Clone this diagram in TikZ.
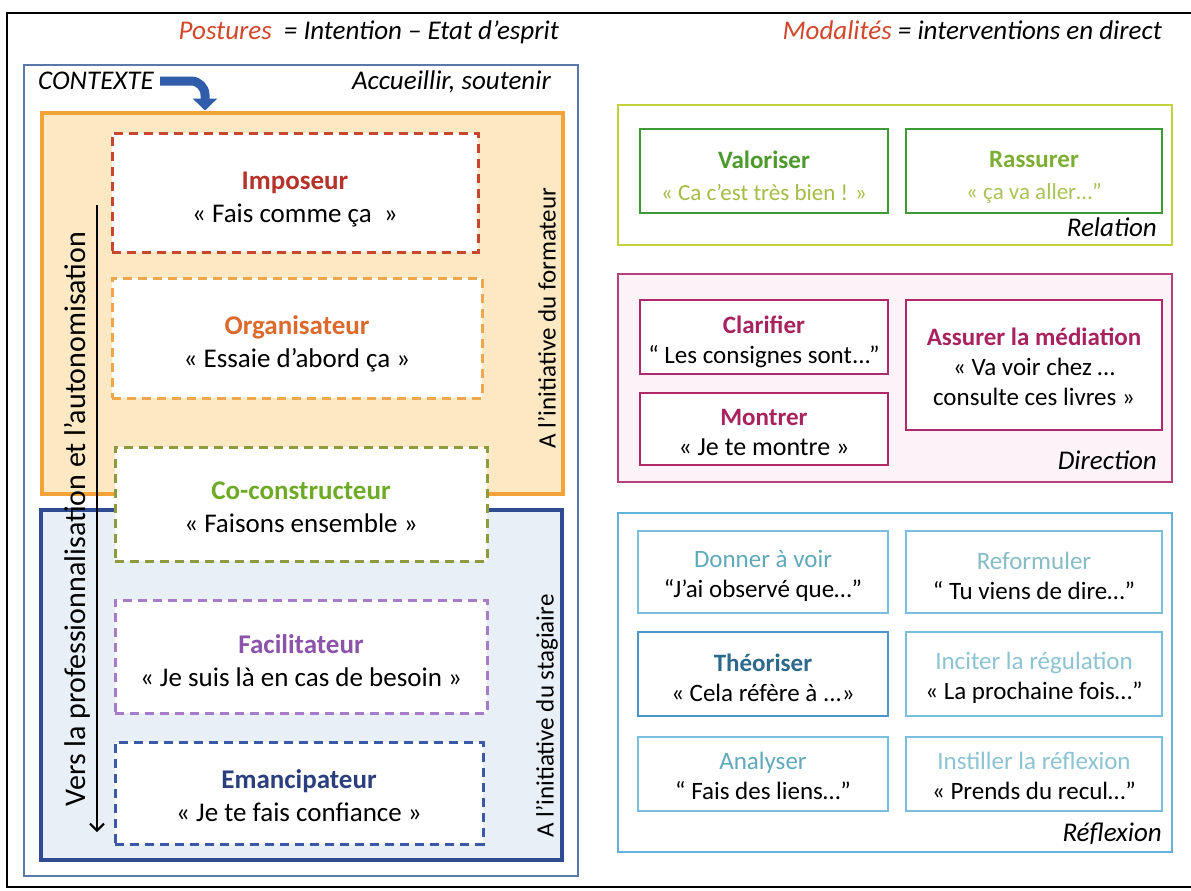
\documentclass[tikz,border=0pt]{standalone}
\usepackage{fontspec}
\setmainfont{Carlito}
\usetikzlibrary{arrows.meta}

\definecolor{headred}{HTML}{D2462C}
\definecolor{frameblue}{HTML}{5A78A8}
\definecolor{ctxblue}{HTML}{2F5DAA}
\definecolor{orangefill}{HTML}{FDE8C4}
\definecolor{orangeline}{HTML}{F3A338}
\definecolor{bluefill}{HTML}{E9EFF7}
\definecolor{blueline}{HTML}{2E4C92}
\definecolor{imposeurD}{HTML}{C8452E}
\definecolor{imposeurT}{HTML}{B5332A}
\definecolor{organisateurD}{HTML}{F0A64A}
\definecolor{organisateurT}{HTML}{DC6A2C}
\definecolor{coconstructeurD}{HTML}{8E9A3E}
\definecolor{coconstructeurT}{HTML}{6FAA26}
\definecolor{facilitateurD}{HTML}{A87BC8}
\definecolor{facilitateurT}{HTML}{8B53AA}
\definecolor{emancipateurD}{HTML}{3A5AA8}
\definecolor{emancipateurT}{HTML}{2B3F7E}
\definecolor{relline}{HTML}{C3D23C}
\definecolor{relbox}{HTML}{3E9A34}
\definecolor{valtitle}{HTML}{4C9A2C}
\definecolor{valquote}{HTML}{A2BC44}
\definecolor{rasstitle}{HTML}{7DAE34}
\definecolor{rassquote}{HTML}{A8C454}
\definecolor{dirline}{HTML}{B4407C}
\definecolor{dirfill}{HTML}{FBF3F7}
\definecolor{dirbox}{HTML}{B0286A}
\definecolor{dirtitle}{HTML}{A8225E}
\definecolor{refline}{HTML}{62B2DA}
\definecolor{refbox}{HTML}{7ABEDD}
\definecolor{theobox}{HTML}{4A96C8}
\definecolor{donnerT}{HTML}{5FA9BB}
\definecolor{reformT}{HTML}{86BCC6}
\definecolor{theoT}{HTML}{2B6A8C}
\definecolor{inciterT}{HTML}{8CC3D2}

\begin{document}
\begin{tikzpicture}[x=1pt,y=-1pt,
	postbox/.style={draw,fill=white,line width=3pt,dash pattern=on 9pt off 6pt,inner sep=0pt},
	posttext/.style={align=center,inner sep=0pt,font=\fontsize{27}{33}\selectfont},
	modbox/.style={draw,fill=white,line width=2.2pt,inner sep=0pt},
	modtext/.style={align=center,inner sep=0pt,font=\fontsize{25}{30}\selectfont},
	panel/.style={draw,line width=1.6pt,inner sep=0pt},
	tag/.style={font=\fontsize{27}{32}\selectfont\itshape,inner sep=0pt},
	side/.style={rotate=90,inner sep=0pt,font=\fontsize{25}{30}\selectfont}]
	\useasboundingbox (0,0) rectangle (1191,891);
	\fill[white] (0,0) rectangle (1191,891);
	\draw[line width=2pt] (7,13) rectangle (1220,887);

	% headers
	\node[tag,anchor=base east] (posthead) at (559,40)
		{\textcolor{headred}{Postures}\ \ = Intention -- Etat d’esprit};
	\node[tag,anchor=base east] (modhead) at (1162,40)
		{\textcolor{headred}{Modalités} = interventions en direct};

	% postures
	\node[panel,draw=frameblue,line width=1.3pt,minimum width=554pt,minimum height=811pt]
		(contexte) at (301,470.5) {};
	\node[tag,anchor=base west] (ctx) at (38,89) {CONTEXTE};
	\node[tag,anchor=base east] (accueil) at (551,89) {Accueillir, soutenir};
	\node[panel,fill=orangefill,draw=orangeline,line width=4pt,minimum width=521pt,minimum height=381pt]
		(formateur) at (302,303) {};
	\node[panel,fill=bluefill,draw=blueline,line width=4pt,minimum width=521pt,minimum height=350pt]
		(stagiaire) at (301.5,685) {};
	\coordinate (ctxa) at (160,81);
	\coordinate (ctxx) at (205,0);
	\draw[ctxblue,line width=9pt,rounded corners=14pt,-{Triangle[width=24pt,length=12pt]}]
		(ctxa) -| (ctxx |- formateur.north);

	\foreach \nm/\cx/\cy/\w/\h/\dy/\ttl/\qt in {
		imposeur/295/192.5/366/119/7/Imposeur/{« Fais comme ça\ \ »},
		organisateur/297/338/370/120/6/Organisateur/{« Essaie d’abord ça »},
		coconstructeur/301/504/372/114/3.5/Co-constructeur/{« Faisons ensemble »},
		facilitateur/301/656.5/372/113/4.5/Facilitateur/{« Je suis là en cas de besoin »},
		emancipateur/299/793/368/102/2.5/Emancipateur/{« Je te fais confiance »}}{
		\node[postbox,draw=\nm D,minimum width=\w pt,minimum height=\h pt] (\nm) at (\cx,\cy) {};
		\node[posttext] (\nm txt) at ([yshift=-\dy pt]\nm.center)
			{\textcolor{\nm T}{\bfseries \ttl}\\\qt};
	}

	\node[side,anchor=center] (formlabel) at (547,318) {A l’initiative du formateur};
	\node[side,anchor=center] (stalabel) at (547,716) {A l’initiative du stagiaire};
	\coordinate (proftop) at (97,205);
	\coordinate (profbot) at (97,832);
	\draw[line width=2pt,-{Straight Barb[length=7pt,width=14pt]}] (proftop) -- (profbot);
	\node[rotate=90,inner sep=0pt,font=\fontsize{30}{36}\selectfont] (proflabel) at (77,519)
		{Vers la professionnalisation et l’autonomisation};

	% modalites : panels
	\node[panel,draw=relline,minimum width=554pt,minimum height=140pt] (relation) at (895,175) {};
	\node[panel,draw=dirline,fill=dirfill,minimum width=554pt,minimum height=208pt] (direction) at (895,378) {};
	\node[panel,draw=refline,line width=2pt,minimum width=554pt,minimum height=339pt] (reflexion) at (895,682.5) {};
	\node[tag,anchor=base east] (reltag) at (1157,236) {Relation};
	\node[tag,anchor=base east] (dirtag) at (1157,469) {Direction};
	\node[tag,anchor=base east] (reftag) at (1162,841) {Réflexion};

	% modalites : boxes
	\foreach \nm/\cx/\cy/\w/\h/\dy/\bc/\txt in {
		valoriser/764/171/248/84/4.5/relbox/{\textcolor{valtitle}{\bfseries Valoriser}\\[2pt]{\fontsize{23}{28}\selectfont\textcolor{valquote}{« Ca c’est très bien ! »}}},
		rassurer/1034/171/256/84/6.5/relbox/{\textcolor{rasstitle}{\bfseries Rassurer}\\[2pt]{\fontsize{23}{28}\selectfont\textcolor{rassquote}{« ça va aller…”}}},
		clarifier/764/337/248/74/4.5/dirbox/{\textcolor{dirtitle}{\bfseries Clarifier}\\“ Les consignes sont...”},
		montrer/764/429/248/72/3/dirbox/{\textcolor{dirtitle}{\bfseries Montrer}\\{\fontsize{26}{31}\selectfont« Je te montre »}},
		mediation/1034/365/256/130/2/dirbox/{\textcolor{dirtitle}{\bfseries Assurer la médiation}\\« Va voir chez …\\consulte ces livres »},
		donner/763/572/250/82/4/refbox/{\textcolor{donnerT}{Donner à voir}\\“J’ai observé que…”},
		reformuler/1034/572/256/82/4/refbox/{\textcolor{reformT}{Reformuler}\\“ Tu viens de dire…”},
		theoriser/763/674/250/84/3.5/theobox/{\textcolor{theoT}{\bfseries Théoriser}\\« Cela réfère à ...»},
		inciter/1034/674/256/84/3.5/refbox/{\textcolor{inciterT}{Inciter la régulation}\\« La prochaine fois…”},
		analyser/763/774/250/74/2/refbox/{\textcolor{donnerT}{Analyser}\\“ Fais des liens…”},
		instiller/1034/774/256/74/2/refbox/{\textcolor{inciterT}{Instiller la réflexion}\\« Prends du recul…”}}{
		\node[modbox,draw=\bc,minimum width=\w pt,minimum height=\h pt] (\nm) at (\cx,\cy) {};
		\node[modtext] (\nm txt) at ([yshift=-\dy pt]\nm.center) {\txt};
	}
\end{tikzpicture}
\end{document}
